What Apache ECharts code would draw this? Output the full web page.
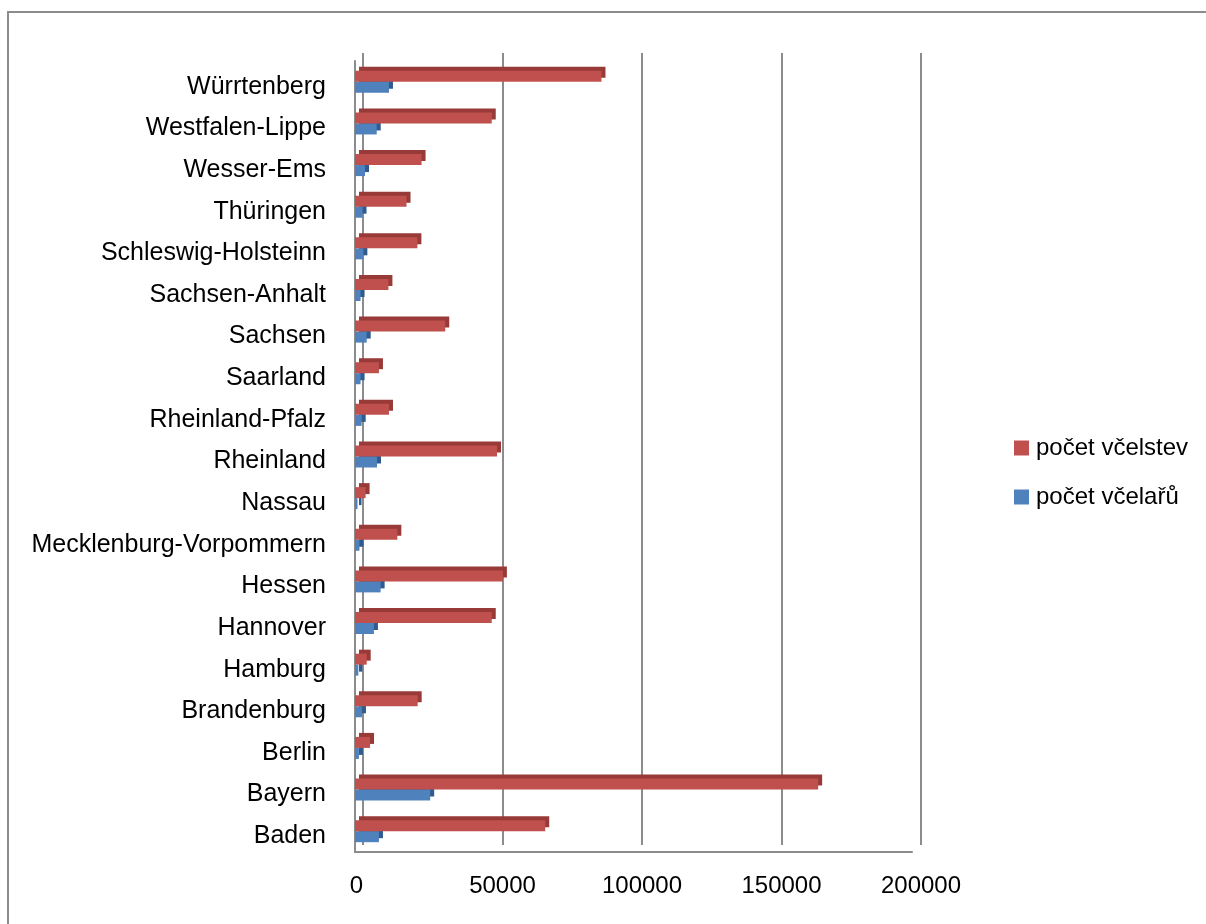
<!DOCTYPE html>
<html>
<head>
<meta charset="utf-8">
<script src="https://cdn.jsdelivr.net/npm/echarts@6/dist/echarts.min.js"></script>
<style>
html,body{margin:0;padding:0;background:#fff;overflow:hidden;}
#frame{position:absolute;left:7px;top:11px;width:1300px;height:1000px;border:2px solid #8c8c8c;}
#chart{position:absolute;left:0;top:0;width:1206px;height:924px;}
</style>
</head>
<body>
<div id="frame"></div>
<div id="chart"></div>
<script>
// Categories (bottom to top as drawn on the category axis)
const categories = ['Baden','Bayern','Berlin','Brandenburg','Hamburg','Hannover','Hessen','Mecklenburg-Vorpommern','Nassau','Rheinland','Rheinland-Pfalz','Saarland','Sachsen','Sachsen-Anhalt','Schleswig-Holsteinn','Thüringen','Wesser-Ems','Westfalen-Lippe','Würrtenberg'];
// počet včelstev (colonies)
const colonies = [68300,166300,5400,22500,4200,49100,53100,15200,3800,51000,12200,8600,32400,12000,22400,18500,23900,49100,88500];
// počet včelařů (beekeepers)
const beekeepers = [8600,27000,1400,2500,1200,6800,9200,1600,900,7900,2400,2000,4200,2000,3000,2700,3600,7800,12200];
const seriesNames = ['počet včelstev','počet včelařů'];
const xMin = 0, xMax = 200000, xStep = 50000;

const FONT = 'Liberation Sans';
const chart = echarts.init(document.getElementById('chart'), null, {renderer:'canvas'});
chart.setOption({
  animation:false,
  backgroundColor:'transparent',
  textStyle:{fontFamily:FONT},
  legend:{
    orient:'vertical', left:1014, top:436, padding:0, itemWidth:15, itemHeight:15, itemGap:25,
    icon:'rect', data:seriesNames,
    textStyle:{fontFamily:FONT,fontSize:24,color:'#000', padding:[0,0,0,2]}
  },
  grid:[
    {left:355, right:294, top:61, bottom:72, containLabel:false},
    {left:363, right:285, top:53, bottom:79, containLabel:false}
  ],
  xAxis:[
    {type:'value', gridIndex:0, min:xMin, max:xMax, interval:xStep,
     axisLine:{show:true, lineStyle:{color:'#8c8c8c', width:2}},
     axisTick:{show:false}, axisLabel:{show:false}, splitLine:{show:false}},
    {type:'value', gridIndex:1, min:xMin, max:xMax, interval:xStep,
     axisLine:{show:false}, axisTick:{show:false},
     axisLabel:{show:true, margin:29, fontFamily:FONT, fontSize:24, color:'#000',
       alignMinLabel:'right', formatter:function(v){return String(v);}},
     splitLine:{show:true, lineStyle:{color:'#8c8c8c', width:2}}}
  ],
  yAxis:[
    {type:'category', gridIndex:0, data:categories, offset:3,
     axisLine:{show:true, lineStyle:{color:'#8c8c8c', width:2}},
     axisTick:{show:false},
     axisLabel:{margin:26, fontFamily:FONT, fontSize:25, color:'#000',
       formatter:function(v){return '{a|'+v+'}';},
       rich:{a:{fontFamily:FONT, fontSize:25, color:'#000', padding:[10,0,0,0]}}}},
    {type:'category', gridIndex:1, data:categories, show:false}
  ],
  series:[
    {name:seriesNames[0], type:'bar', xAxisIndex:0, yAxisIndex:0, data:colonies, z:3,
     barWidth:11, barGap:'0%',
     itemStyle:{color:'#C0504D', shadowColor:'#983A37', shadowOffsetX:4, shadowOffsetY:-4, shadowBlur:0}},
    {name:seriesNames[1], type:'bar', xAxisIndex:0, yAxisIndex:0, data:beekeepers, z:2,
     barWidth:11, barGap:'0%',
     itemStyle:{color:'#4F81BD', shadowColor:'#2F5B8E', shadowOffsetX:4, shadowOffsetY:-4, shadowBlur:0}}
  ]
});
</script>
</body>
</html>
